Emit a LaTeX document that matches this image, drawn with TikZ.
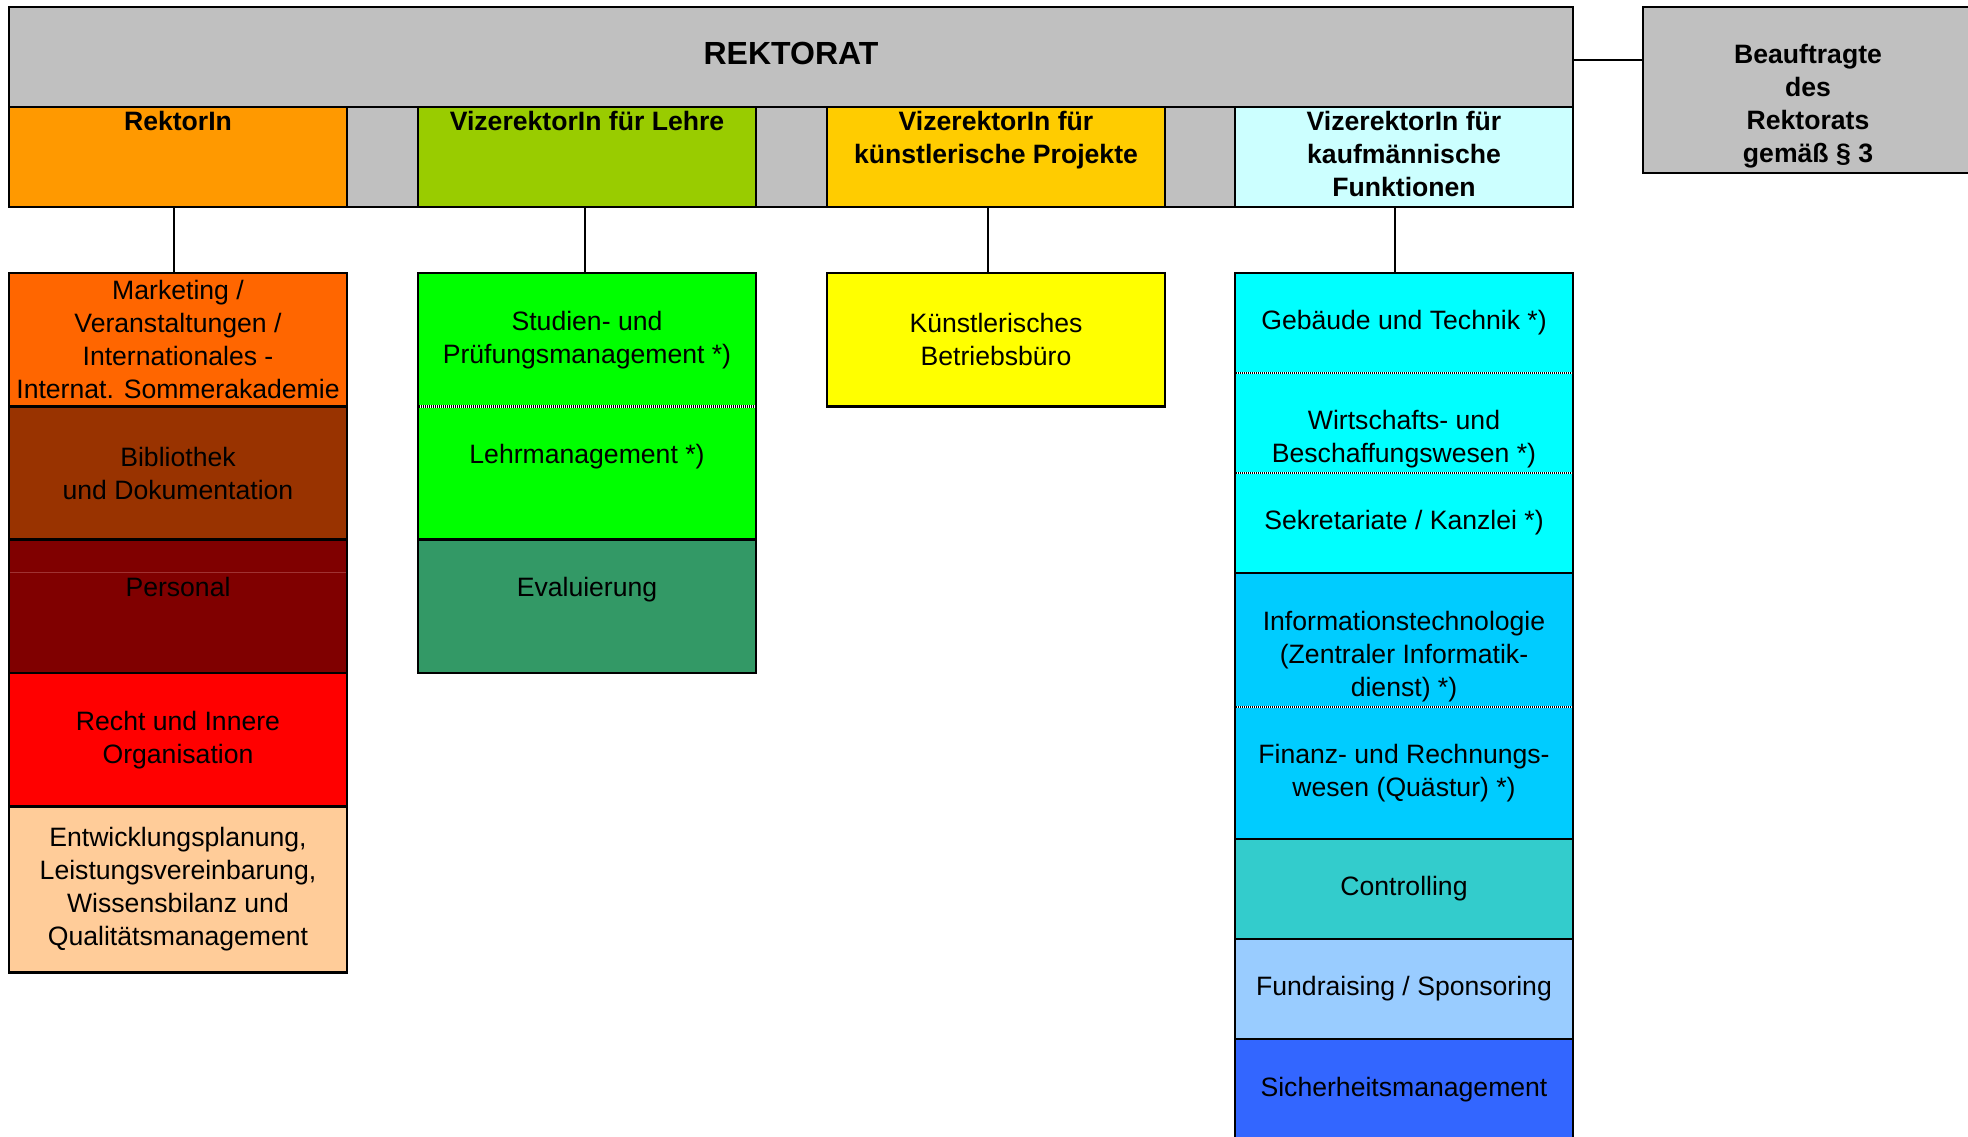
\documentclass[tikz,border=0pt]{standalone}
\usepackage{fontspec}
\setmainfont{Liberation Sans}
\definecolor{grau}{HTML}{C0C0C0}
\definecolor{cRektorin}{HTML}{FF9900}
\definecolor{cLehre}{HTML}{99CC00}
\definecolor{cProjekte}{HTML}{FFCC00}
\definecolor{cKauf}{HTML}{CCFFFF}
\definecolor{cMarketing}{HTML}{FF6600}
\definecolor{cBiblio}{HTML}{993300}
\definecolor{cPersonal}{HTML}{800000}
\definecolor{cRecht}{HTML}{FF0000}
\definecolor{cEntw}{HTML}{FFCC99}
\definecolor{cStudien}{HTML}{00FF00}
\definecolor{cEval}{HTML}{339966}
\definecolor{cBetrieb}{HTML}{FFFF00}
\definecolor{cZyan}{HTML}{00FFFF}
\definecolor{cHimmel}{HTML}{00CCFF}
\definecolor{cControlling}{HTML}{33CCCC}
\definecolor{cFundraising}{HTML}{99CCFF}
\definecolor{cSicherheit}{HTML}{3366FF}
\tikzset{
    box/.style={draw, line width=2.7pt, outer sep=0pt, inner sep=0pt, align=center, minimum width=338pt, font=\fontsize{26.6}{33}\selectfont},
    leitung/.style={box, minimum height=100pt, font=\bfseries\fontsize{26.6}{33}\selectfont},
    abteilung/.style={box, minimum height=#1},
    abteilung/.default=133.3pt,
    link/.style={line width=1.3pt},
    trenn/.style={line width=2.4pt, shorten <=1.4pt, shorten >=1.4pt}
}
\begin{document}
\begin{tikzpicture}[x=1pt, y=-1pt]
    \useasboundingbox (0,0) rectangle (1968,1137);
    \node [box, fill=grau, minimum width=1564pt, minimum height=100pt, text depth=8pt, font=\bfseries\fontsize{32}{38}\selectfont] (rektorat) at (791,57) {REKTORAT};
    \node [box, fill=grau, minimum width=330pt, minimum height=166pt, font=\bfseries\fontsize{26.6}{33}\selectfont] (beauftragte) at (1808,90) {\strut\\Beauftragte\\des\\Rektorats\\gemäß § 3\strut};
    \node [leitung, fill=cRektorin] (rektorin) at (178,157) {\strut RektorIn\\\strut\\\strut};
    \node [leitung, fill=cLehre] (lehre) at (587,157) {\strut VizerektorIn für Lehre\\\strut\\\strut};
    \node [leitung, fill=cProjekte] (projekte) at (996,157) {\strut VizerektorIn für\\künstlerische Projekte\\\strut};
    \node [leitung, fill=cKauf] (kauf) at (1404,157) {\strut VizerektorIn für\\kaufmännische\\Funktionen\strut};
    \draw [line width=2.7pt, fill=grau] (rektorin.north east) rectangle (lehre.south west);
    \draw [line width=2.7pt, fill=grau] (lehre.north east) rectangle (projekte.south west);
    \draw [line width=2.7pt, fill=grau] (projekte.north east) rectangle (kauf.south west);
    \draw [line width=2pt] ([yshift=-3pt]rektorat.east) -- ([yshift=-3pt]rektorat.east -| beauftragte.west);
    % RektorIn
    \node [abteilung, fill=cMarketing] (marketing) at (178,339.7) {Marketing /\\Veranstaltungen /\\Internationales -\\Internat. Sommerakademie};
    \node [abteilung, fill=cBiblio] (biblio) at (178,473) {Bibliothek\\und Dokumentation};
    \node [abteilung, fill=cPersonal] (personal) at (178,606.3) {\strut Personal\\\strut};
    \node [abteilung, fill=cRecht] (recht) at (178,739.7) {Recht und Innere\\Organisation};
    \node [abteilung=166pt, fill=cEntw] (entw) at (178,889.2) {Entwicklungsplanung,\\Leistungsvereinbarung,\\Wissensbilanz und\\Qualitätsmanagement};
    \draw [line width=1pt, color={rgb,255:red,160;green,50;blue,50}, shorten <=1.4pt, shorten >=1.4pt] ([yshift=-33pt]personal.north west) -- ([yshift=-33pt]personal.north east);
    % Lehre
    \node [abteilung, fill=cStudien] (studien) at (587,339.7) {Studien- und\\Prüfungsmanagement *)};
    \node [abteilung, fill=cStudien] (lehrm) at (587,473) {\strut Lehrmanagement *)\\\strut};
    \node [abteilung, fill=cEval] (eval) at (587,606.3) {\strut Evaluierung\\\strut};
    % Projekte
    \node [abteilung, fill=cBetrieb] (betrieb) at (996,339.7) {Künstlerisches\\Betriebsbüro};
    % kaufmaennisch
    \node [abteilung=100pt, fill=cZyan] (gebaeude) at (1404,323) {Gebäude und Technik *)};
    \node [abteilung=100pt, fill=cZyan] (wirtschaft) at (1404,423) {\strut\\Wirtschafts- und\\Beschaffungswesen *)\strut};
    \node [abteilung=100pt, fill=cZyan] (sekretariat) at (1404,523) {Sekretariate / Kanzlei *)};
    \node [abteilung=134pt, fill=cHimmel] (it) at (1404,640) {\strut\\Informationstechnologie\\(Zentraler Informatik-\\dienst) *)\strut};
    \node [abteilung=132pt, fill=cHimmel] (finanz) at (1404,773) {Finanz- und Rechnungs-\\wesen (Quästur) *)};
    \node [abteilung=100pt, fill=cControlling] (controlling) at (1404,889) {Controlling};
    \node [abteilung=100pt, fill=cFundraising] (fundraising) at (1404,989) {Fundraising / Sponsoring};
    \node [abteilung=102pt, fill=cSicherheit] (sicherheit) at (1404,1090) {Sicherheitsmanagement};
    \foreach \n in {studien, gebaeude, wirtschaft, it} {
        \draw [trenn, white] (\n.south west) -- (\n.south east);
        \draw [trenn, black, dash pattern=on 1pt off 1pt] (\n.south west) -- (\n.south east);
    }
    \draw [link] ([xshift=-4pt]rektorin.south) -- ([xshift=-4pt]marketing.north);
    \draw [link] ([xshift=-2pt]lehre.south) -- ([xshift=-2pt]studien.north);
    \draw [link] ([xshift=-8pt]projekte.south) -- ([xshift=-8pt]betrieb.north);
    \draw [link] ([xshift=-9pt]kauf.south) -- ([xshift=-9pt]gebaeude.north);
\end{tikzpicture}
\end{document}
